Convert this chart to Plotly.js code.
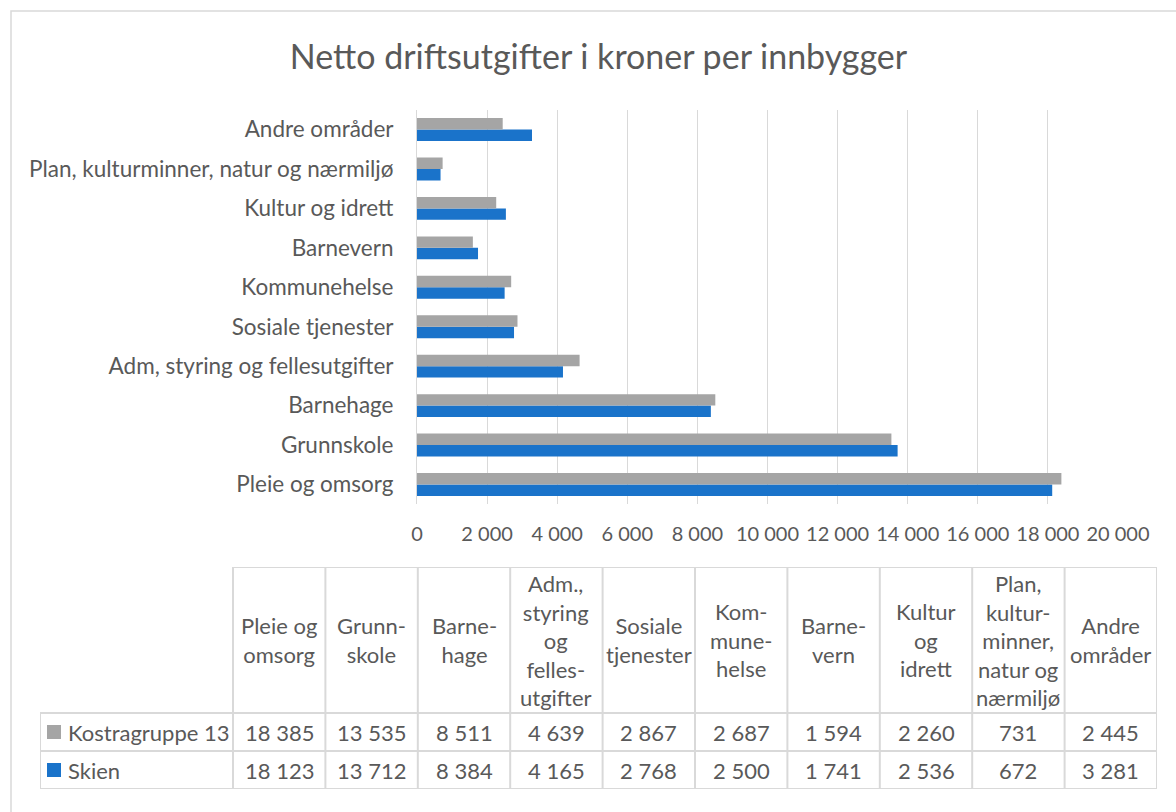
<!DOCTYPE html>
<html>
<head>
<meta charset="utf-8">
<script src="https://cdn.plot.ly/plotly-3.0.1.min.js"></script>
<style>
  html, body { margin: 0; padding: 0; background: #fff; }
  #graph { width: 1176px; height: 812px; }
</style>
</head>
<body>
<div id="graph"></div>
<script>
// categories, bottom to top as they appear on the bar axis
const categories = [
  'Pleie og omsorg',
  'Grunnskole',
  'Barnehage',
  'Adm, styring og fellesutgifter',
  'Sosiale tjenester',
  'Kommunehelse',
  'Barnevern',
  'Kultur og idrett',
  'Plan, kulturminner, natur og nærmiljø',
  'Andre områder'
];

// same categories, as the data table header writes them
const tableHeaders = [
  'Pleie og<br>omsorg',
  'Grunn-<br>skole',
  'Barne-<br>hage',
  'Adm.,<br>styring<br>og<br>felles-<br>utgifter',
  'Sosiale<br>tjenester',
  'Kom-<br>mune-<br>helse',
  'Barne-<br>vern',
  'Kultur<br>og<br>idrett',
  'Plan,<br>kultur-<br>minner,<br>natur og<br>nærmiljø',
  'Andre<br>områder'
];

const kostraName = 'Kostragruppe 13';
const kostraValues = [18385, 13535, 8511, 4639, 2867, 2687, 1594, 2260, 731, 2445];

const skienName = 'Skien';
const skienValues = [18123, 13712, 8384, 4165, 2768, 2500, 1741, 2536, 672, 3281];

const xTicks = [0, 2000, 4000, 6000, 8000, 10000, 12000, 14000, 16000, 18000, 20000];

const textColor = '#595959';
const lineColor = '#D9D9D9';
const greyColor = '#A5A5A5';
const blueColor = '#1A73CA';
const font = 'Lato, "Open Sans", sans-serif';

const W = 1176, H = 812;
const px = v => v / W;          // pixel -> paper x
const py = v => 1 - v / H;      // pixel -> paper y

function fmt(n) {
  return String(n).replace(/\B(?=(\d{3})+(?!\d))/g, ' ');
}

// table geometry in its own axis units: columns are 1 unit wide, rows in pixels
const legendColWidth = 193 / 92.4;
const tLeft = -0.5 - legendColWidth;
const tRight = categories.length - 0.5;
const headerH = 146, rowH = 38;
const rows = [
  { name: kostraName, values: kostraValues, color: greyColor },
  { name: skienName, values: skienValues, color: blueColor }
];
const tBottom = headerH + rowH * rows.length;
const tableFont = { family: font, size: 22, color: textColor };

const traces = [
  {
    type: 'bar', orientation: 'h', name: skienName,
    y: categories, x: skienValues,
    marker: { color: blueColor }, hoverinfo: 'x+y'
  },
  {
    type: 'bar', orientation: 'h', name: kostraName,
    y: categories, x: kostraValues,
    marker: { color: greyColor }, hoverinfo: 'x+y'
  }
];

const shapes = [];
const annotations = [];

// outer chart frame
shapes.push({
  type: 'rect', xref: 'paper', yref: 'paper',
  x0: px(11), x1: px(1200), y0: py(11), y1: py(840),
  line: { color: lineColor, width: 1.5 }, fillcolor: 'rgba(0,0,0,0)', layer: 'below'
});

const tl = { color: lineColor, width: 2 };
// horizontal table lines
shapes.push({ type: 'line', xref: 'x2', yref: 'y2', x0: -0.5, x1: tRight, y0: 0, y1: 0, line: tl });
for (let r = 0; r <= rows.length; r++) {
  const y = headerH + r * rowH;
  shapes.push({ type: 'line', xref: 'x2', yref: 'y2', x0: tLeft, x1: tRight, y0: y, y1: y, line: tl });
}
// vertical table lines
shapes.push({ type: 'line', xref: 'x2', yref: 'y2', x0: tLeft, x1: tLeft, y0: headerH, y1: tBottom, line: tl });
for (let c = 0; c <= categories.length; c++) {
  const x = c - 0.5;
  shapes.push({ type: 'line', xref: 'x2', yref: 'y2', x0: x, x1: x, y0: 0, y1: tBottom, line: tl });
}

// header cells
tableHeaders.forEach((h, i) => {
  annotations.push({
    xref: 'x2', yref: 'y2', x: i, y: headerH / 2,
    text: h, showarrow: false, align: 'center',
    xanchor: 'center', yanchor: 'middle',
    font: tableFont
  });
});

// data rows with legend keys
rows.forEach((row, r) => {
  const yc = headerH + r * rowH + rowH / 2;
  shapes.push({
    type: 'rect', xref: 'x2', yref: 'y2',
    xsizemode: 'pixel', ysizemode: 'pixel',
    xanchor: tLeft, yanchor: yc,
    x0: 7, x1: 21, y0: -7, y1: 7,
    fillcolor: row.color, line: { width: 0 }
  });
  annotations.push({
    xref: 'x2', yref: 'y2', x: tLeft + 26 / 92.4, y: yc,
    text: row.name, showarrow: false,
    xanchor: 'left', yanchor: 'middle',
    font: tableFont
  });
  row.values.forEach((v, i) => {
    annotations.push({
      xref: 'x2', yref: 'y2', x: i, y: yc,
      text: fmt(v), showarrow: false,
      xanchor: 'center', yanchor: 'middle',
      font: tableFont
    });
  });
});

const layout = {
  width: W, height: H,
  margin: { l: 0, r: 0, t: 0, b: 0 },
  paper_bgcolor: '#fff', plot_bgcolor: '#fff',
  showlegend: false,
  barmode: 'group',
  bargap: 0.42,
  bargroupgap: 0,
  separators: ', ',
  font: { family: font, color: textColor, size: 20 },
  title: {
    text: 'Netto driftsutgifter i kroner per innbygger',
    x: px(598.5), y: py(57), xanchor: 'center', yanchor: 'middle',
    font: { family: font, size: 34, color: textColor }
  },
  xaxis: {
    domain: [px(417), px(1118)],
    range: [0, 20000],
    tickvals: xTicks,
    tickformat: ',d',
    showgrid: true, gridcolor: lineColor, gridwidth: 1,
    zeroline: false, showline: false, ticks: '',
    ticklabelstandoff: 16,
    tickfont: { family: font, size: 20, color: textColor },
    fixedrange: true
  },
  yaxis: {
    domain: [py(504.2), py(109.8)],
    type: 'category',
    showline: true, linecolor: lineColor, linewidth: 1,
    showgrid: false, zeroline: false, ticks: '',
    ticklabelstandoff: 18,
    tickfont: { family: font, size: 22.5, color: textColor },
    fixedrange: true
  },
  xaxis2: {
    domain: [px(40), px(1157)],
    range: [tLeft, tRight],
    anchor: 'y2', visible: false, fixedrange: true
  },
  yaxis2: {
    domain: [py(789), py(567)],
    range: [tBottom, 0],
    anchor: 'x2', visible: false, fixedrange: true
  },
  shapes: shapes,
  annotations: annotations
};

Plotly.newPlot('graph', traces, layout, { displayModeBar: false, staticPlot: true });
</script>
</body>
</html>
